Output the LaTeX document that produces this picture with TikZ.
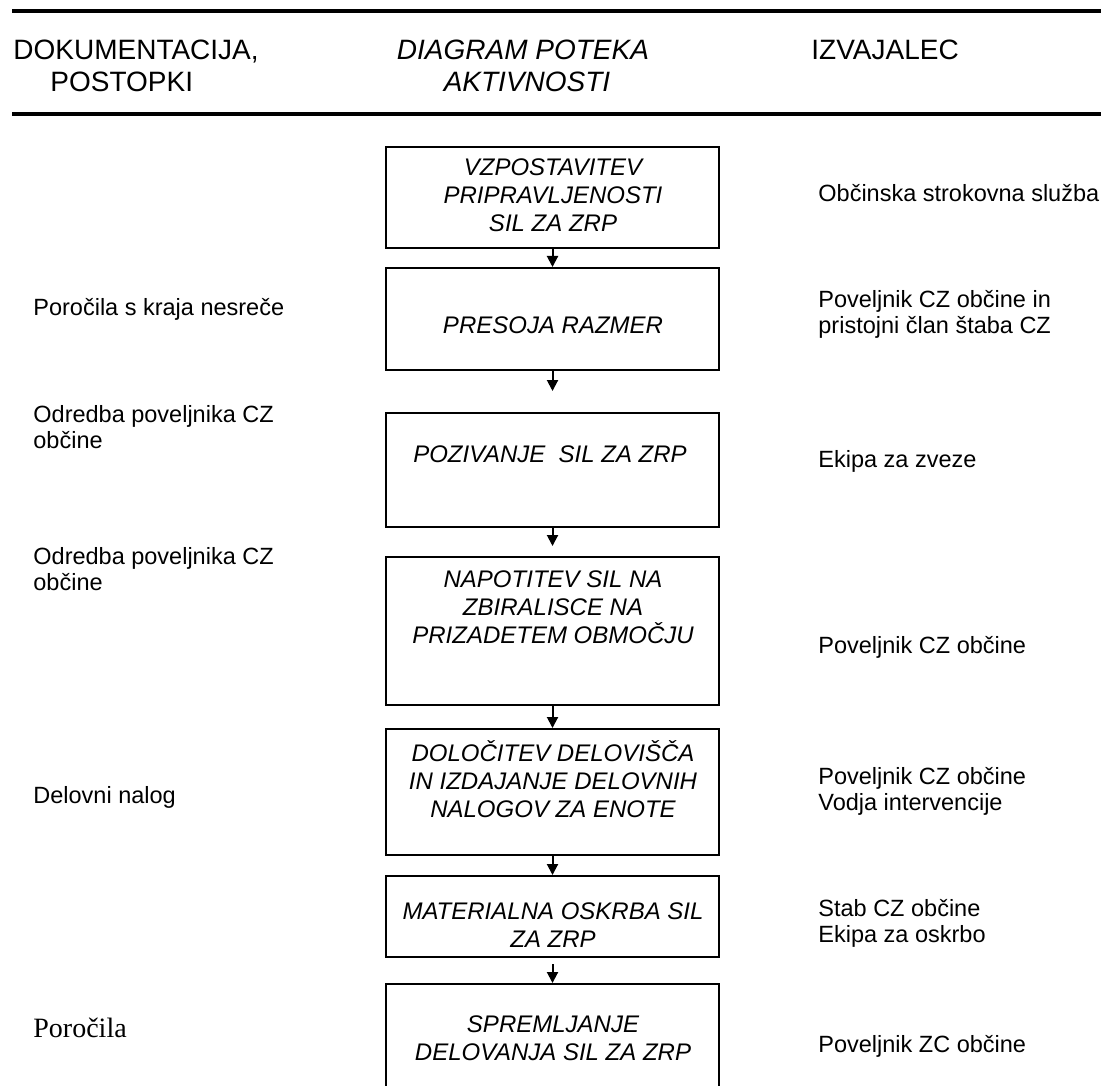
\documentclass[tikz,border=0pt]{standalone}
\usepackage{fontspec}
\setmainfont{Liberation Sans}
\newfontfamily\serifrm{Liberation Serif}
\usetikzlibrary{arrows.meta}

\tikzset{
  stepbox/.style={draw, line width=1pt, minimum width=166.5pt, inner sep=0pt},
  boxtext/.style={anchor=base, align=center, inner sep=0pt, font=\fontsize{12}{14}\selectfont\itshape},
  coltext/.style={anchor=base west, align=left, inner sep=0pt, font=\fontsize{11.75}{12.75}\selectfont},
  headtext/.style={inner sep=0pt, font=\fontsize{14}{16}\selectfont},
  flow/.style={line width=1pt, -{Triangle[length=5.5pt,width=5.5pt]}}
}

\begin{document}
\begin{tikzpicture}[x=0.5pt,y=-0.5pt]
%%Page
\clip (0,0) rectangle (1101,1085);
%%Rules
\draw[line width=2pt] (12,11) -- (1101,11);
\draw[line width=2pt] (12,114) -- (1101,114);
%%Header
\node[headtext, anchor=base west] (hdok) at (13,59.5) {DOKUMENTACIJA,};
\node[headtext, anchor=base west] (hpos) at (50,92) {POSTOPKI};
\node[headtext, anchor=base, font=\fontsize{14}{16}\selectfont\itshape] (hdia) at (523,59.5) {DIAGRAM POTEKA};
\node[headtext, anchor=base, font=\fontsize{14}{16}\selectfont\itshape] (hakt) at (527,92) {AKTIVNOSTI};
\node[headtext, anchor=base west] (hizv) at (811,59.5) {IZVAJALEC};
%%Boxes
\node[stepbox, minimum height=50.5pt] (b1) at (552.5,197.5) {};
\node[stepbox, minimum height=51pt] (b2) at (552.5,319) {};
\node[stepbox, minimum height=57pt] (b3) at (552.5,470) {};
\node[stepbox, minimum height=74pt] (b4) at (552.5,631) {};
\node[stepbox, minimum height=63pt] (b5) at (552.5,792) {};
\node[stepbox, minimum height=40.5pt] (b6) at (552.5,916.5) {};
\node[stepbox, minimum height=75pt] (b7) at (552.5,1059) {};
%%Box texts (base = last line)
\node[boxtext] (t1) at (553,232) {VZPOSTAVITEV\\PRIPRAVLJENOSTI\\SIL ZA ZRP};
\node[boxtext] (t2) at (553,333) {PRESOJA RAZMER};
\node[boxtext] (t3) at (550,462) {POZIVANJE\ \ SIL ZA ZRP};
\node[boxtext] (t4) at (553,643) {NAPOTITEV SIL NA\\ZBIRALISCE NA\\PRIZADETEM OBMOČJU};
\node[boxtext] (t5) at (553,817) {DOLOČITEV DELOVIŠČA\\IN IZDAJANJE DELOVNIH\\NALOGOV ZA ENOTE};
\node[boxtext] (t6) at (553,947) {MATERIALNA OSKRBA SIL\\ZA ZRP};
\node[boxtext] (t7) at (553,1060) {SPREMLJANJE\\DELOVANJA SIL ZA ZRP};
%%Arrows
\draw[flow] (b1.south) -- (b2.north);
\draw[flow, shorten >=10.5pt] (b2.south) -- (b3.north);
\draw[flow, shorten >=5pt] (b3.south) -- (b4.north);
\draw[flow] (b4.south) -- (b5.north);
\draw[flow] (b5.south) -- (b6.north);
\draw[flow, shorten <=3pt] (b6.south) -- (b7.north);
%%Documents
\node[coltext] (l1) at (33,315) {Poročila s kraja nesreče};
\node[coltext] (l2) at (33,448) {Odredba poveljnika CZ\\občine};
\node[coltext] (l3) at (33,590) {Odredba poveljnika CZ\\občine};
\node[coltext] (l4) at (33,803) {Delovni nalog};
\node[coltext, font=\fontsize{14}{16}\serifrm] (l5) at (33,1037) {Poročila};
%%Performers
\node[coltext] (r1) at (818,202) {Občinska strokovna služba};
\node[coltext] (r2) at (818,333) {Poveljnik CZ občine in\\pristojni član štaba CZ};
\node[coltext] (r3) at (818,467) {Ekipa za zveze};
\node[coltext] (r4) at (818,653) {Poveljnik CZ občine};
\node[coltext] (r5) at (818,810) {Poveljnik CZ občine\\Vodja intervencije};
\node[coltext] (r6) at (818,942) {Stab CZ občine\\Ekipa za oskrbo};
\node[coltext] (r7) at (818,1052) {Poveljnik ZC občine};
\end{tikzpicture}
\end{document}
